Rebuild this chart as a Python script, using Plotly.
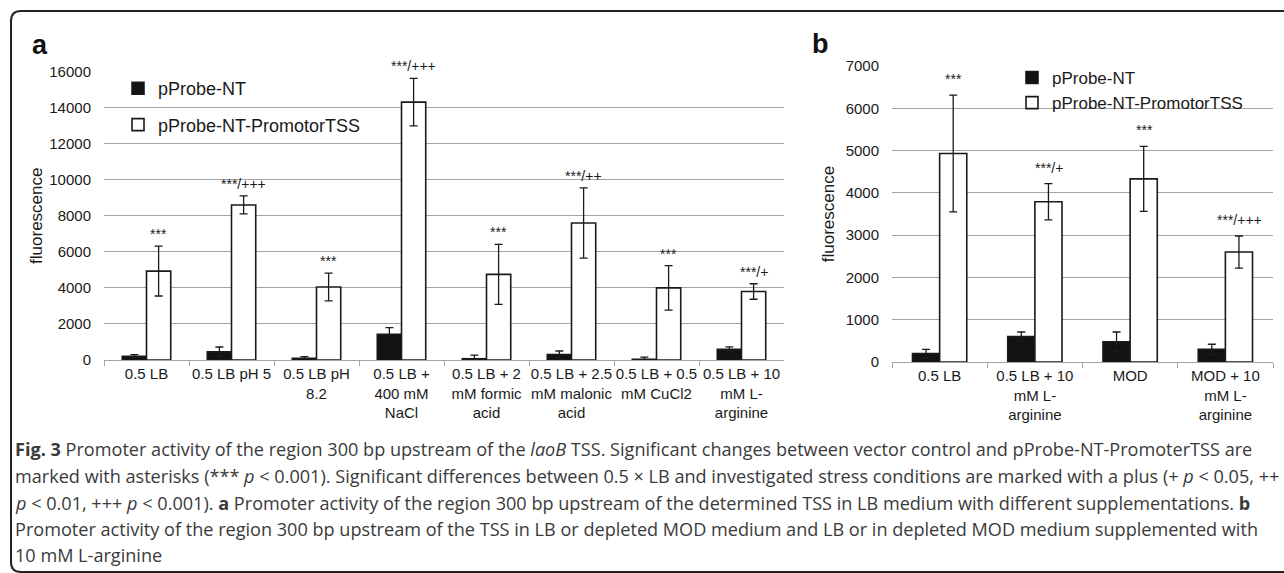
import plotly.graph_objects as go

W, H = 1284, 573

# ---------------- data: panel a ----------------
cats_a = ["0.5 LB", "0.5 LB pH 5", "0.5 LB pH<br>8.2", "0.5 LB +<br>400 mM<br>NaCl",
          "0.5 LB + 2<br>mM formic<br>acid", "0.5 LB + 2.5<br>mM malonic<br>acid",
          "0.5 LB + 0.5<br>mM CuCl2", "0.5 LB + 10<br>mM L-<br>arginine"]
ctrl_a = [200, 450, 100, 1430, 70, 300, 40, 600]
ctrl_err_a = [100, 270, 90, 370, 200, 200, 120, 130]
tss_a = [4930, 8600, 4050, 14300, 4750, 7600, 4000, 3800]
tss_err_a = [1380, 500, 770, 1320, 1660, 1950, 1230, 430]
sig_a = ["***", "***/+++", "***", "***/+++", "***", "***/++", "***", "***/+"]

# ---------------- data: panel b ----------------
cats_b = ["0.5 LB", "0.5 LB + 10<br>mM L-<br>arginine", "MOD", "MOD + 10<br>mM L-<br>arginine"]
ctrl_b = [200, 600, 480, 300]
ctrl_err_b = [100, 110, 230, 120]
tss_b = [4930, 3790, 4330, 2600]
tss_err_b = [1380, 430, 770, 380]
sig_b = ["***", "***/+", "***", "***/+++"]

names = ["pProbe-NT", "pProbe-NT-PromotorTSS"]

caption_lines = [
    "<b>Fig. 3</b> Promoter activity of the region 300 bp upstream of the <i>laoB</i> TSS. Significant changes between vector control and pProbe-NT-PromoterTSS are",
    "marked with asterisks (*** <i>p</i> &lt; 0.001). Significant differences between 0.5 × LB and investigated stress conditions are marked with a plus (+ <i>p</i> &lt; 0.05, ++",
    "<i>p</i> &lt; 0.01, +++ <i>p</i> &lt; 0.001). <b>a</b> Promoter activity of the region 300 bp upstream of the determined TSS in LB medium with different supplementations. <b>b</b>",
    "Promoter activity of the region 300 bp upstream of the TSS in LB or depleted MOD medium and LB or in depleted MOD medium supplemented with",
    "10 mM L-arginine",
]

# ---------------- layout helpers (pixel -> paper) ----------------
def px(x):
    return x / W

def py(y):
    return 1 - y / H

FONT = "Liberation Sans, Arial, sans-serif"
INK = "#1a1a1a"
GRID = "#a3a3a3"

fig = go.Figure()

bar_line = dict(color=INK, width=1.6)
err_style = dict(type="data", visible=True, color=INK, thickness=1.3, width=4)

fig.add_trace(go.Bar(x=cats_a, y=ctrl_a, name=names[0], marker=dict(color="#121212", line=bar_line),
                     error_y=dict(array=ctrl_err_a, **err_style), xaxis="x", yaxis="y",
                     legend="legend", legendgroup="g1"))
fig.add_trace(go.Bar(x=cats_a, y=tss_a, name=names[1], marker=dict(color="white", line=bar_line),
                     error_y=dict(array=tss_err_a, **err_style), xaxis="x", yaxis="y",
                     legend="legend", legendgroup="g2"))
fig.add_trace(go.Bar(x=cats_b, y=ctrl_b, name=names[0], marker=dict(color="#121212", line=bar_line),
                     error_y=dict(array=ctrl_err_b, **err_style), xaxis="x2", yaxis="y2",
                     legend="legend2"))
fig.add_trace(go.Bar(x=cats_b, y=tss_b, name=names[1], marker=dict(color="white", line=bar_line),
                     error_y=dict(array=tss_err_b, **err_style), xaxis="x2", yaxis="y2",
                     legend="legend2"))

annotations = []
# significance labels above the white bars
for c, v, e, s in zip(cats_a, tss_a, tss_err_a, sig_a):
    annotations.append(dict(x=c, y=v + e, xref="x", yref="y", text=s, showarrow=False,
                            xshift=12, yshift=12, yanchor="middle",
                            font=dict(family=FONT, size=14, color=INK)))
for c, v, e, s in zip(cats_b, tss_b, tss_err_b, sig_b):
    annotations.append(dict(x=c, y=v + e, xref="x2", yref="y2", text=s, showarrow=False,
                            xshift=14, yshift=16, yanchor="middle",
                            font=dict(family=FONT, size=14, color=INK)))
# panel letters
annotations.append(dict(x=px(30), y=py(45), xref="paper", yref="paper", text="<b>a</b>",
                        showarrow=False, xanchor="left", yanchor="middle",
                        font=dict(family=FONT, size=27, color="#111")))
annotations.append(dict(x=px(810), y=py(44), xref="paper", yref="paper", text="<b>b</b>",
                        showarrow=False, xanchor="left", yanchor="middle",
                        font=dict(family=FONT, size=27, color="#111")))
# caption
cap_y = [449, 476, 503, 529, 555]
for line, yc in zip(caption_lines, cap_y):
    annotations.append(dict(x=px(13), y=py(yc), xref="paper", yref="paper", text=line,
                            showarrow=False, xanchor="left", yanchor="middle",
                            font=dict(family="Open Sans, sans-serif", size=18.1, color="#3a3a3a")))

shapes = [
    # rounded frame (runs off the right edge)
    dict(type="path", xref="paper", yref="paper",
         path=(f"M {px(1300)},{py(11)} L {px(21)},{py(11)} Q {px(11)},{py(11)} {px(11)},{py(21)} "
               f"L {px(11)},{py(562)} Q {px(11)},{py(572)} {px(21)},{py(572)} L {px(1300)},{py(572)}"),
         line=dict(color="#222", width=2)),
    # legend box of panel b hides gridline underneath
    dict(type="rect", xref="paper", yref="paper", layer="between",
         x0=px(1026), x1=px(1266), y0=py(111), y1=py(68),
         fillcolor="white", line=dict(width=0)),
]

axis_common = dict(showgrid=True, gridcolor=GRID, gridwidth=1, zeroline=False, automargin=False,
                   tickfont=dict(family=FONT, size=15, color=INK), ticks="", showline=False)

fig.update_layout(
    width=W, height=H,
    margin=dict(l=0, r=0, t=0, b=0, pad=0, autoexpand=False),
    paper_bgcolor="white", plot_bgcolor="white",
    barmode="group", bargap=0.43, bargroupgap=0,
    font=dict(family=FONT, color=INK),
    xaxis=dict(domain=[px(104), px(784)], anchor="y", type="category", automargin=False,
               showgrid=False, showline=True, linecolor=GRID, linewidth=1.2,
               ticks="outside", tickson="boundaries", ticklen=5, tickcolor=GRID,
               tickfont=dict(family=FONT, size=15, color=INK), tickangle=0),
    yaxis=dict(domain=[py(360), py(71.5)], anchor="x", range=[0, 16000], dtick=2000,
               tickformat="d", ticklabelstandoff=12,
               title=dict(text="fluorescence", font=dict(family=FONT, size=17, color=INK), standoff=2),
               **axis_common),
    xaxis2=dict(domain=[px(892), px(1273)], anchor="y2", type="category", automargin=False,
                showgrid=False, showline=True, linecolor=GRID, linewidth=1.2,
                ticks="outside", tickson="boundaries", ticklen=5, tickcolor=GRID,
                tickfont=dict(family=FONT, size=15, color=INK), tickangle=0),
    yaxis2=dict(domain=[py(362), py(66)], anchor="x2", range=[0, 7000], dtick=1000,
                tickformat="d", ticklabelstandoff=12,
                title=dict(text="fluorescence", font=dict(family=FONT, size=17, color=INK), standoff=6),
                **axis_common),
    legend=dict(x=px(118), y=py(70), xanchor="left", yanchor="top", bgcolor="rgba(0,0,0,0)",
                font=dict(family=FONT, size=18, color=INK), tracegroupgap=10, itemwidth=30),
    legend2=dict(x=px(1012), y=py(60), xanchor="left", yanchor="top", bgcolor="rgba(0,0,0,0)",
                 font=dict(family=FONT, size=17, color=INK), tracegroupgap=0, itemwidth=30),
    annotations=annotations,
    shapes=shapes,
)

post = (
    "document.documentElement.style.margin='0';document.documentElement.style.padding='0';"
    "document.body.style.margin='0';document.body.style.padding='0';document.body.style.overflow='hidden';"
    "var gd=document.getElementById('{plot_id}');"
    "if(gd){gd.style.position='fixed';gd.style.left='0px';gd.style.top='0px';gd.style.margin='0';}"
)

fig.write_html("out.html", post_script=post, config={"displayModeBar": False})
